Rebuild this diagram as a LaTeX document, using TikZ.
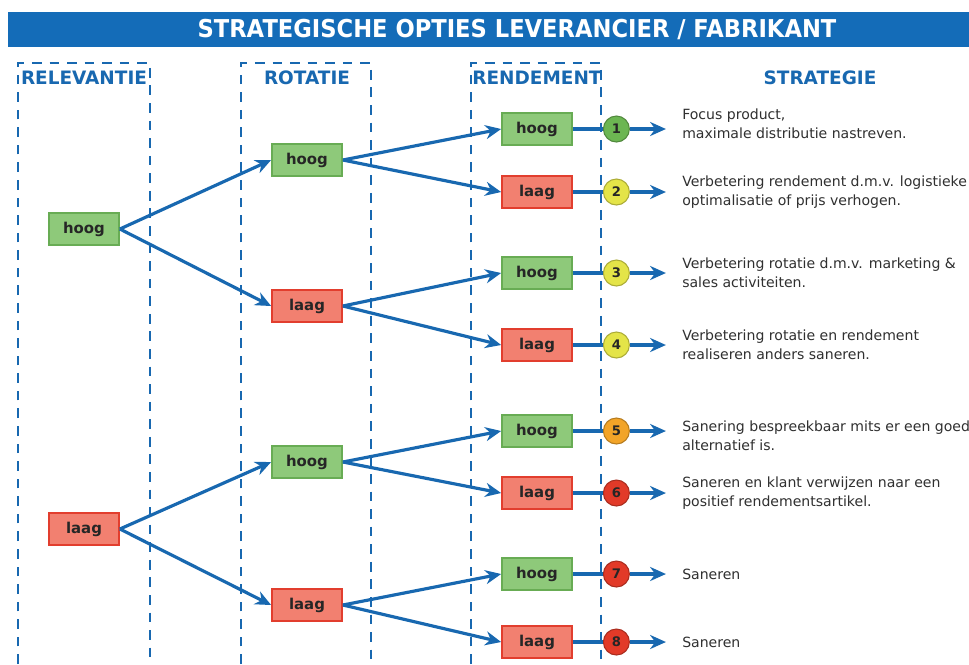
\documentclass[tikz,border=0pt]{standalone}
\usepackage{fontspec}
\setmainfont{DejaVu Sans}
\usetikzlibrary{positioning, arrows.meta}
\definecolor{balkblauw}{RGB}{20,108,184}
\definecolor{lijnblauw}{RGB}{24,104,176}
\definecolor{hooggroen}{RGB}{142,201,122}
\definecolor{hoogrand}{RGB}{104,172,84}
\definecolor{laagrood}{RGB}{242,128,112}
\definecolor{laagrand}{RGB}{226,62,46}
\definecolor{dotgroen}{RGB}{108,182,82}
\definecolor{dotgeel}{RGB}{228,228,72}
\definecolor{dotoranje}{RGB}{242,164,40}
\definecolor{dotrood}{RGB}{226,58,40}
\definecolor{tekstgrijs}{RGB}{48,48,48}
\tikzset{>={Stealth[length=9pt,width=8pt]}}
\tikzset{
  hoogbox/.style={draw=hoogrand, fill=hooggroen, line width=1pt, minimum width=1.4cm, minimum height=0.64cm, font=\bfseries\fontsize{8.5}{10}\selectfont, text=black!85},
  laagbox/.style={draw=laagrand, fill=laagrood, line width=1pt, minimum width=1.4cm, minimum height=0.64cm, font=\bfseries\fontsize{8.5}{10}\selectfont, text=black!85},
  numdot/.style={circle, draw=#1!75!black, fill=#1, line width=0.6pt, minimum size=0.52cm, inner sep=0pt, font=\bfseries\fontsize{7.5}{9}\selectfont, text=black!85},
  kolom/.style={draw=lijnblauw, line width=1.4pt, dash pattern=on 5.5pt off 4.5pt},
  kop/.style={font=\bfseries\fontsize{10.5}{12}\selectfont, text=lijnblauw},
  pijl/.style={->, draw=lijnblauw, line width=1.8pt},
  lijn/.style={draw=lijnblauw, line width=1.8pt},
  uitleg/.style={align=left, anchor=west, inner sep=0pt, font=\fontsize{8}{10.8}\selectfont, text=tekstgrijs}
}

\begin{document}
\begin{tikzpicture}[x=0.02cm, y=-0.02cm]
    \useasboundingbox (0,0) rectangle (969,664);
    \fill[white] (0,0) rectangle (969,664);
    \fill[balkblauw] (8,12) rectangle (969,47);
    \node[text=white, font=\bfseries\fontsize{14}{16}\selectfont] (titel) at (517,29.5)
        {\scalebox{0.92}[1]{STRATEGISCHE OPTIES LEVERANCIER / FABRIKANT}};

    \draw[kolom] (18,664) -- (18,63) -- (150,63) -- (150,664);
    \draw[kolom] (241,664) -- (241,63) -- (371,63) -- (371,664);
    \draw[kolom] (471,664) -- (471,63) -- (601,63) -- (601,664);
    \node[kop] (krel) at (84,78) {RELEVANTIE};
    \node[kop] (krot) at (307,78) {ROTATIE};
    \node[kop] (kren) at (537,78) {RENDEMENT};
    \node[kop] (kstr) at (820,78) {STRATEGIE};

    \node[hoogbox] (rel1) at (84,229) {hoog};
    \node[laagbox] (rel2) at (84,529) {laag};

    \node[hoogbox] (rot1) at (307,160) {hoog};
    \node[laagbox] (rot2) at (307,306) {laag};
    \node[hoogbox] (rot3) at (307,462) {hoog};
    \node[laagbox] (rot4) at (307,605) {laag};

    \node[hoogbox] (ren1) at (537,129) {hoog};
    \node[laagbox] (ren2) at (537,192) {laag};
    \node[hoogbox] (ren3) at (537,273) {hoog};
    \node[laagbox] (ren4) at (537,345) {laag};
    \node[hoogbox] (ren5) at (537,431) {hoog};
    \node[laagbox] (ren6) at (537,493) {laag};
    \node[hoogbox] (ren7) at (537,574) {hoog};
    \node[laagbox] (ren8) at (537,642) {laag};

    \draw[pijl] (rel1.east) -- (rot1.west);
    \draw[pijl] (rel1.east) -- (rot2.west);
    \draw[pijl] (rel2.east) -- (rot3.west);
    \draw[pijl] (rel2.east) -- (rot4.west);
    \draw[pijl] (rot1.east) -- (ren1.west);
    \draw[pijl] (rot1.east) -- (ren2.west);
    \draw[pijl] (rot2.east) -- (ren3.west);
    \draw[pijl] (rot2.east) -- (ren4.west);
    \draw[pijl] (rot3.east) -- (ren5.west);
    \draw[pijl] (rot3.east) -- (ren6.west);
    \draw[pijl] (rot4.east) -- (ren7.west);
    \draw[pijl] (rot4.east) -- (ren8.west);

    \node[numdot=dotgroen, right=0.6cm of ren1] (n1) {1};
    \node[numdot=dotgeel, right=0.6cm of ren2] (n2) {2};
    \node[numdot=dotgeel, right=0.6cm of ren3] (n3) {3};
    \node[numdot=dotgeel, right=0.6cm of ren4] (n4) {4};
    \node[numdot=dotoranje, right=0.6cm of ren5] (n5) {5};
    \node[numdot=dotrood, right=0.6cm of ren6] (n6) {6};
    \node[numdot=dotrood, right=0.6cm of ren7] (n7) {7};
    \node[numdot=dotrood, right=0.6cm of ren8] (n8) {8};

    \draw[lijn] (ren1) -- (n1);
    \draw[lijn] (ren2) -- (n2);
    \draw[lijn] (ren3) -- (n3);
    \draw[lijn] (ren4) -- (n4);
    \draw[lijn] (ren5) -- (n5);
    \draw[lijn] (ren6) -- (n6);
    \draw[lijn] (ren7) -- (n7);
    \draw[lijn] (ren8) -- (n8);

    \coordinate[right=0.72cm of n1] (p1);
    \coordinate[right=0.72cm of n2] (p2);
    \coordinate[right=0.72cm of n3] (p3);
    \coordinate[right=0.72cm of n4] (p4);
    \coordinate[right=0.72cm of n5] (p5);
    \coordinate[right=0.72cm of n6] (p6);
    \coordinate[right=0.72cm of n7] (p7);
    \coordinate[right=0.72cm of n8] (p8);
    \draw[pijl] (n1) -- (p1);
    \draw[pijl] (n2) -- (p2);
    \draw[pijl] (n3) -- (p3);
    \draw[pijl] (n4) -- (p4);
    \draw[pijl] (n5) -- (p5);
    \draw[pijl] (n6) -- (p6);
    \draw[pijl] (n7) -- (p7);
    \draw[pijl] (n8) -- (p8);

    \node[uitleg, right=1.04cm of n1, yshift=0.1cm] (s1) {Focus product,\\maximale distributie nastreven.};
    \node[uitleg, right=1.04cm of n2] (s2) {Verbetering rendement d.m.v. logistieke\\optimalisatie of prijs verhogen.};
    \node[uitleg, right=1.04cm of n3] (s3) {Verbetering rotatie d.m.v. marketing \&\\sales activiteiten.};
    \node[uitleg, right=1.04cm of n4] (s4) {Verbetering rotatie en rendement\\realiseren anders saneren.};
    \node[uitleg, right=1.04cm of n5, yshift=-0.1cm] (s5) {Sanering bespreekbaar mits er een goed\\alternatief is.};
    \node[uitleg, right=1.04cm of n6] (s6) {Saneren en klant verwijzen naar een\\positief rendementsartikel.};
    \node[uitleg, right=1.04cm of n7] (s7) {Saneren};
    \node[uitleg, right=1.04cm of n8] (s8) {Saneren};
\end{tikzpicture}
\end{document}
